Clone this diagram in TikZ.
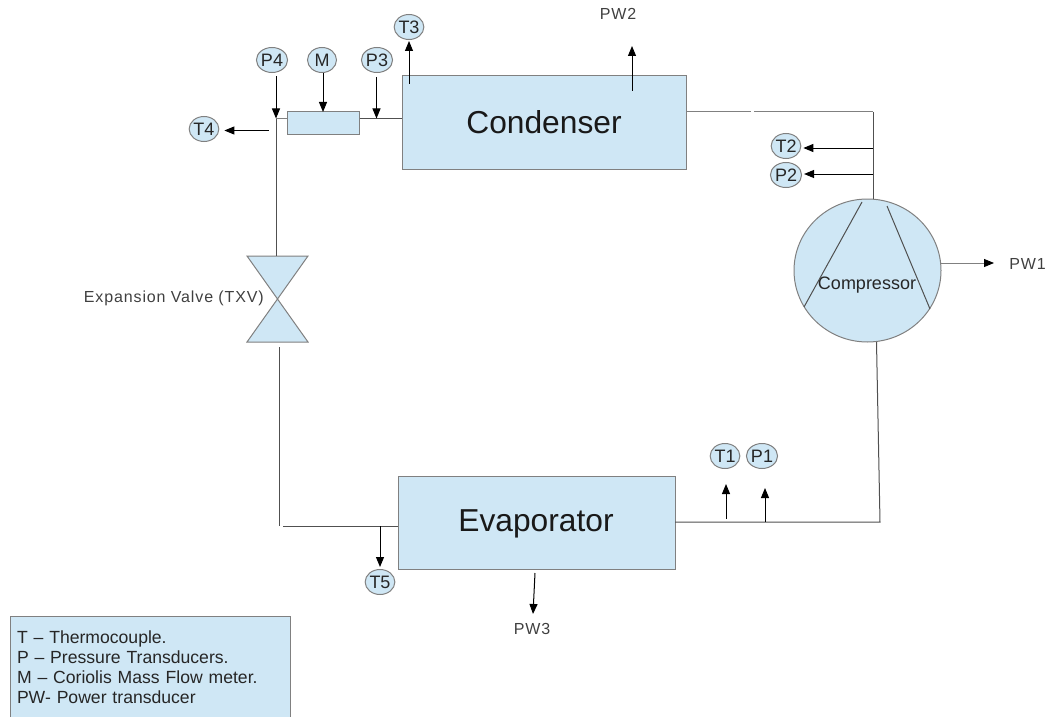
\documentclass[tikz,border=0pt]{standalone}
\usepackage{fontspec}
\setmainfont{Liberation Sans}
\newfontfamily\spacedfont[LetterSpace=5.4]{Liberation Sans}
\usetikzlibrary{arrows.meta,shapes.geometric,calc}
\definecolor{boxfill}{HTML}{CFE7F5}
\definecolor{boxline}{HTML}{808080}
\definecolor{pipe}{HTML}{505050}
\definecolor{lab}{HTML}{404040}
\def\px{0.75pt}
\tikzset{
  x=0.75pt,y=-0.75pt,
  box/.style={draw=boxline,fill=boxfill,line width=1*\px,inner sep=0pt},
  sensor/.style={ellipse,draw=boxline,fill=boxfill,line width=1*\px,inner sep=0pt,minimum width=29*\px,minimum height=25*\px,font=\fontsize{13.5}{15}\selectfont,text=black!85},
  bigtext/.style={font=\fontsize{23.8}{28}\selectfont,text=black!90},
  plain/.style={font=\spacedfont\fontsize{12}{14}\selectfont,text=lab,inner sep=0pt},
  pipeline/.style={draw=pipe,line width=1*\px},
  thinline/.style={draw=boxline,line width=1*\px},
  arr/.style={draw=black,line width=1*\px,-{Triangle[length=10*\px,width=8*\px,black]}},
  softarr/.style={draw=boxline,line width=1*\px,-{Triangle[length=10*\px,width=8*\px,black]}},
}
\begin{document}
\begin{tikzpicture}
\useasboundingbox (0,0) rectangle (1050,717);
% main boxes
\node[box,minimum width=284*\px,minimum height=93*\px] (cond) at (544,122.5) {};
\node[bigtext] at (544,122) {Condenser};
\node[box,minimum width=277*\px,minimum height=93*\px] (evap) at (536.5,522.5) {};
\node[bigtext] at (536,524) {Evaporator};
\node[box,minimum width=72*\px,minimum height=22*\px] (meter) at (323,123) {};
\node[box,ellipse,minimum width=147*\px,minimum height=143*\px] (comp) at (867.5,270.5) {};
\node[font=\fontsize{13.5}{16}\selectfont,text=black!85,inner sep=0pt] (comptext) at (867,285.5) {Compressor};
% compressor blades
\draw[pipeline] (862,202) -- (804,307);
\draw[pipeline] (887,206) -- (930,309);
% valve
\draw[box] (247,256) -- (308,256) -- (247,342) -- (308,342) -- cycle;
\coordinate (valvetop) at (276,256);
\coordinate (valvebot) at (279,347);
\node[plain,anchor=east] (valvelab) at (264,298) {Expansion Valve (TXV)};
% sensors
\node[sensor] (P4) at (272,60) {P4};
\node[sensor] (M) at (322,60) {M};
\node[sensor] (P3) at (377,60) {P3};
\node[sensor] (T3) at (409,27) {T3};
\node[sensor] (T4) at (204,129) {T4};
\node[sensor] (T2) at (786,146) {T2};
\node[sensor] (P2) at (786,175) {P2};
\node[sensor] (T1) at (725,456) {T1};
\node[sensor] (P1) at (762,456) {P1};
\node[sensor] (T5) at (380,582) {T5};
% text labels
\node[plain] (PW2) at (618,14) {PW2};
\node[plain,anchor=west] (PW1) at (1009,264) {PW1};
\node[plain] (PW3) at (532,629) {PW3};
% junction coordinates
\coordinate (j4) at (276,118.5);
\coordinate (jm) at (323,112);
\coordinate (j3) at (376.5,118.5);
\coordinate (j3e) at (402,118.5);
\coordinate (t3s) at (409,84);
\coordinate (t4s) at (268.7,130.5);
\coordinate (cr) at (686,112);
\coordinate (g1) at (751,112);
\coordinate (g2) at (754,112);
\coordinate (corner) at (873,112);
\coordinate (ctop) at (873,199);
\coordinate (jt2) at (873,148);
\coordinate (jp2) at (873,174);
\coordinate (pw1s) at (941,263);
\coordinate (pw1e) at (994,263);
\coordinate (pw2s) at (632,91);
\coordinate (pw2e) at (632,46);
\coordinate (pw3s) at (535,573);
\coordinate (pw3e) at (533,614);
\coordinate (bl) at (279,526);
\coordinate (bl2) at (283,526);
\coordinate (el) at (398,526);
\coordinate (jt5) at (380,526);
\coordinate (er) at (675,522);
\coordinate (br) at (880,522);
\coordinate (cbot) at (876.5,342);
\coordinate (jt1) at (726,519);
\coordinate (jp1) at (765,522);
% pipes
\draw[pipeline] (j4) -- (valvetop);
\draw[thinline] (j4) -- (meter.west |- j4);
\draw[pipeline] (meter.east |- j3) -- (j3e);
\draw[thinline] (cr) -- (g1);
\draw[thinline] (g2) -- (corner);
\draw[pipeline] (corner) -- (ctop);
\draw[pipeline] (valvebot) -- (bl);
\draw[pipeline] (bl2) -- (el);
\draw[pipeline] (er) -- (br) -- (cbot);
% sensor arrows
\draw[arr,shorten <=3.5*\px] (P4.south -| j4) -- (j4);
\draw[arr] (M.south -| jm) -- (jm);
\draw[arr,shorten <=4*\px] (P3.south -| j3) -- (j3);
\draw[arr,shorten >=1*\px] (t3s) -- (T3.south -| t3s);
\draw[arr,shorten >=5*\px] (t4s) -- (T4.east |- t4s);
\draw[arr,shorten >=2*\px] (jt2) -- (T2.east |- jt2);
\draw[arr,shorten >=2*\px] (jp2) -- (P2.east |- jp2);
\draw[arr] (jt1) -- ($(T1.south -| jt1)+(0,15)$);
\draw[arr] (jp1) -- ($(P1.south -| jp1)+(0,19)$);
\draw[arr,shorten >=2*\px] (jt5) -- (T5.north);
\draw[softarr] (pw1s) -- (pw1e);
\draw[arr] (pw2s) -- (pw2e);
\draw[arr] (pw3s) -- (pw3e);
% legend
\node[box,minimum width=280*\px,minimum height=103*\px,text width=266*\px,align=left,font=\fontsize{13.2}{15}\selectfont,text=black!85] (legend) at (150,667.5)
 {T -- Thermocouple.\\P -- Pressure Transducers.\\M -- Coriolis Mass Flow meter.\\PW- Power transducer};
\end{tikzpicture}
\end{document}
